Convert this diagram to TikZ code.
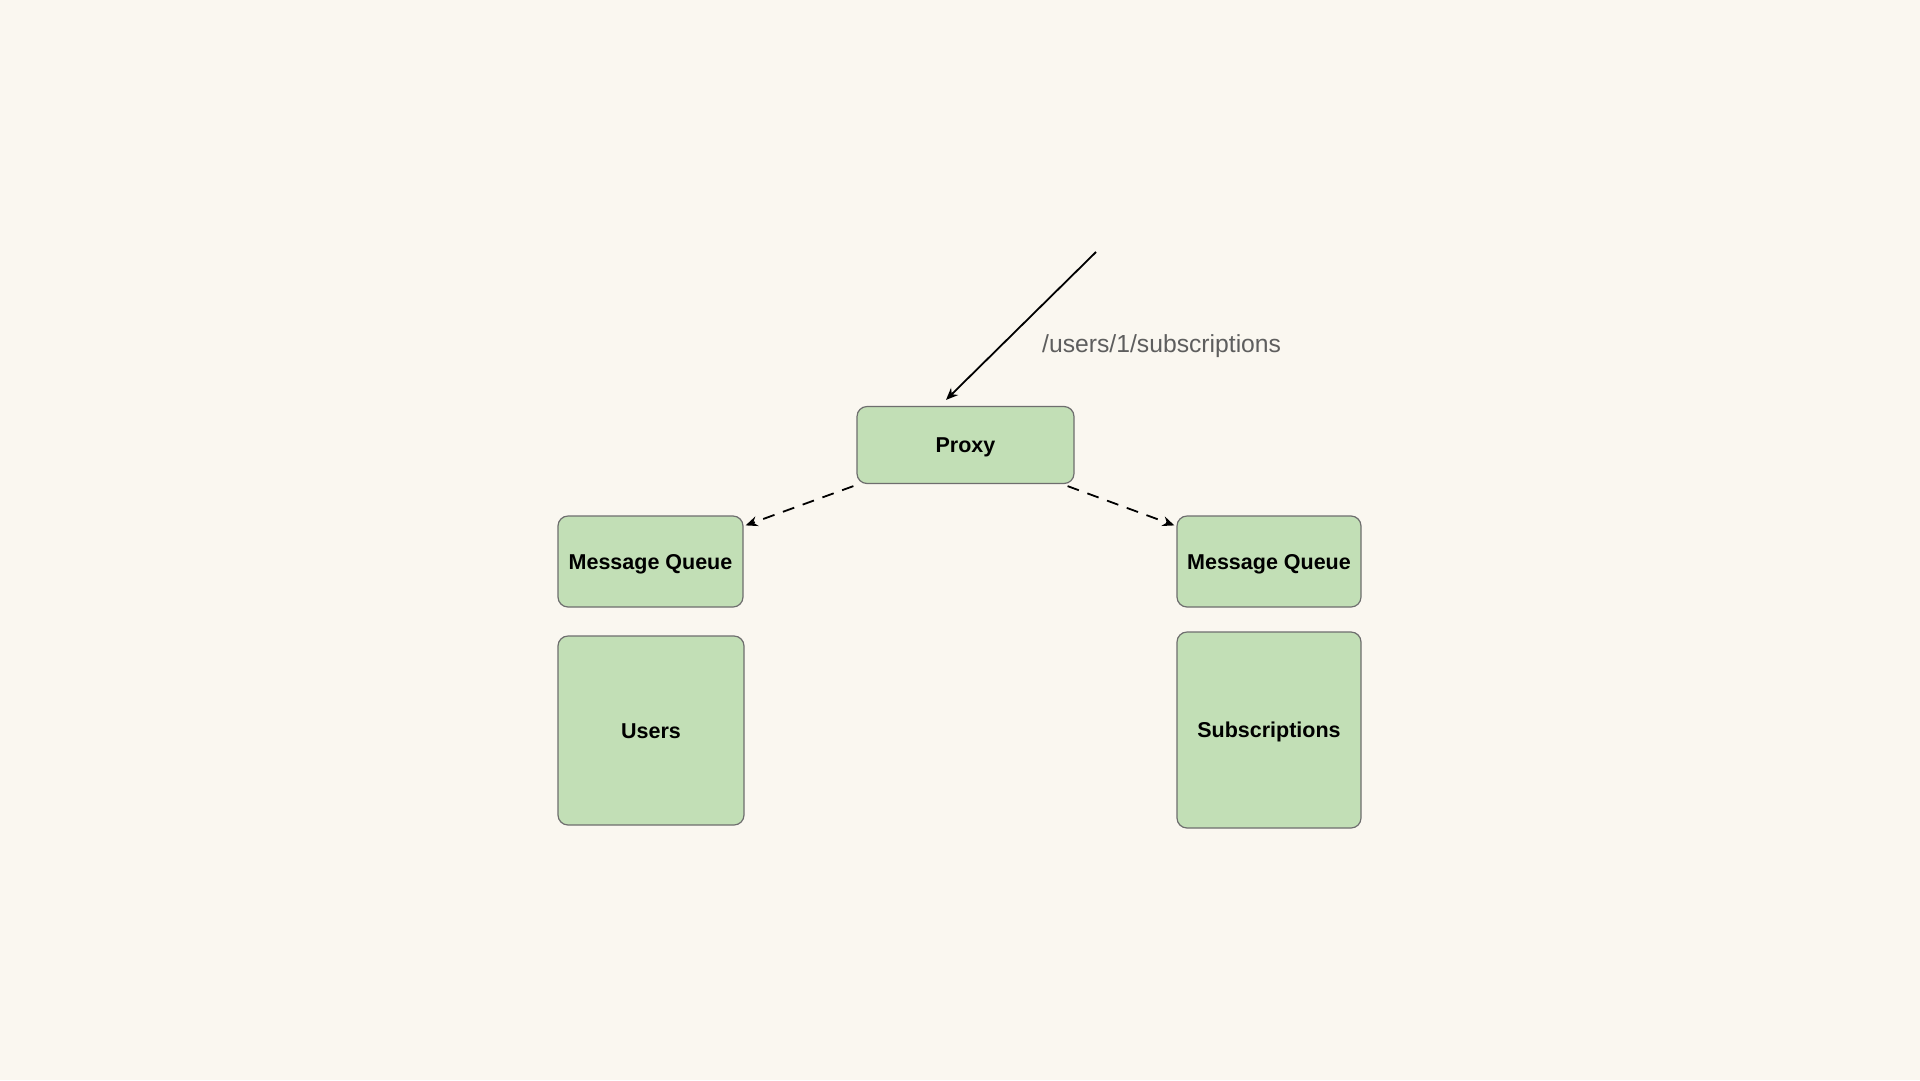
\documentclass[tikz,border=0pt]{standalone}
\usepackage{fontspec}
\setmainfont{Liberation Sans}
\usetikzlibrary{arrows.meta}
\definecolor{bgc}{HTML}{FAF7F0}
\definecolor{boxfill}{HTML}{C2DFB6}
\definecolor{boxline}{HTML}{6E6E6E}
\definecolor{labelgray}{HTML}{5E5E5E}
\tikzset{
  box/.style={draw=boxline, line width=1.2pt, fill=boxfill, rounded corners=10pt,
    inner sep=0pt, align=center, font=\fontsize{21.5}{26}\selectfont\bfseries, text=black,
    text height=15.4pt, text depth=0pt},
  conn/.style={line width=1.8pt, -{Stealth[length=12pt,width=10pt]}},
  dconn/.style={conn, dash pattern=on 12pt off 9pt},
  pathlabel/.style={font=\fontsize{24.7}{30}\selectfont, text=labelgray, inner sep=0pt}
}
\begin{document}
\begin{tikzpicture}[x=1pt,y=-1pt]
\fill[bgc] (0,0) rectangle (1920,1080);
\useasboundingbox (0,0) rectangle (1920,1080);

\node[box, minimum width=217pt, minimum height=77pt] (proxy) at (965.5,445) {Proxy};
\node[box, minimum width=185pt, minimum height=91pt] (mq1) at (650.5,561.5) {Message Queue};
\node[box, minimum width=186pt, minimum height=189pt] (users) at (651,730.5) {Users};
\node[box, minimum width=184pt, minimum height=91pt] (mq2) at (1269,561.5) {Message Queue};
\node[box, minimum width=184pt, minimum height=196pt] (subs) at (1269,730) {Subscriptions};

\coordinate (src) at (1096,252);
\draw[conn] (src) -- ([xshift=-19.5pt,yshift=6pt]proxy.north);
\node[pathlabel, anchor=base west] (lbl) at (1042,352) {/users/1/subscriptions};

\draw[dconn] ([xshift=-3pt,yshift=-2pt]proxy.south west) -- ([xshift=2pt,yshift=-10pt]mq1.north east);
\draw[dconn] ([xshift=-7pt,yshift=-2pt]proxy.south east) -- ([xshift=-2pt,yshift=-10pt]mq2.north west);
\end{tikzpicture}
\end{document}
